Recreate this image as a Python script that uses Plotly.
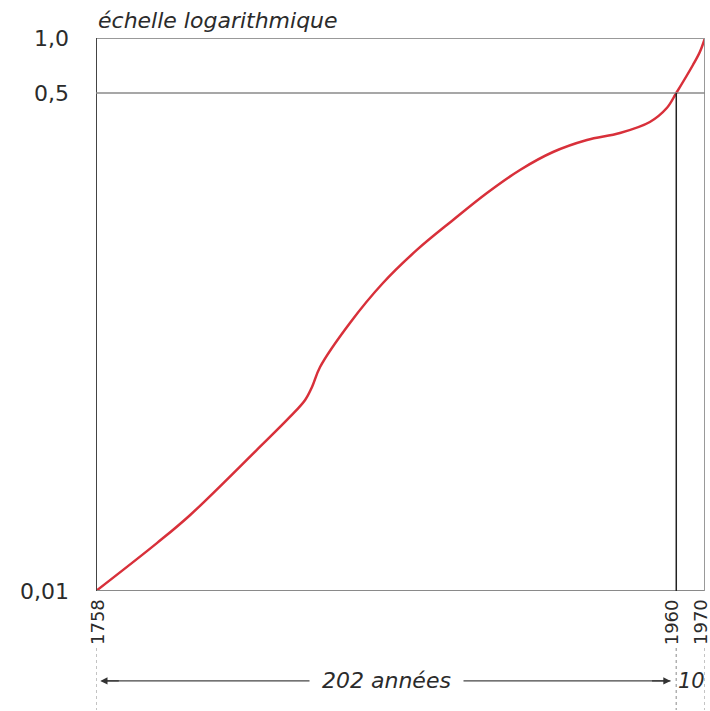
import plotly.graph_objects as go

# Curve (year, value on the log axis)
years = [1758.0, 1779.2, 1790.7, 1814.0, 1825.5, 1830.8, 1833.2,
         1836.0, 1846.4, 1857.9, 1869.7, 1882.3, 1894.1, 1905.6, 1917.1, 1928.9,
         1940.4, 1950.8, 1956.7, 1960.0, 1965.8, 1968.2, 1970.0]
values = [0.0100, 0.0149, 0.0188, 0.0324, 0.0426, 0.0491, 0.0547,
          0.0646, 0.0932, 0.1300, 0.1712, 0.2197, 0.2750, 0.3332, 0.3870, 0.4277,
          0.4533, 0.4969, 0.5581, 0.6326, 0.7987, 0.8898, 1.0000]

# Axis ticks as drawn on the picture
y_tick_vals = [0.01, 0.6326, 1.0]
y_tick_text = ["0,01", "0,5", "1,0"]
x_tick_vals = [1758, 1960, 1970]
x_tick_text = ["1758", "1960", "1970"]

x_start, x_mark, x_end = 1758, 1960, 1970
y_bottom, y_mark, y_top = 0.01, 0.6326, 1.0

title_text = "échelle logarithmique"
span_text = "202 années"
tail_text = "10"

FONT = "DejaVu Sans"
TXT = "#2b2b2b"

fig = go.Figure()
fig.add_trace(go.Scatter(
    x=years, y=values, mode="lines",
    line=dict(color="#d8303a", width=2.5, shape="spline", smoothing=1.0),
    cliponaxis=False, hoverinfo="skip", showlegend=False,
))

shapes = []
# frame
shapes.append(dict(type="line", xref="x", yref="y", x0=x_start, x1=x_end, y0=y_top, y1=y_top,
                   line=dict(color="#999999", width=2)))
shapes.append(dict(type="line", xref="x", yref="y", x0=x_start, x1=x_end, y0=y_bottom, y1=y_bottom,
                   line=dict(color="#8a8a8a", width=2)))
shapes.append(dict(type="line", xref="x", yref="y", x0=x_end, x1=x_end, y0=y_bottom, y1=y_top,
                   line=dict(color="#999999", width=2)))
shapes.append(dict(type="line", xref="x", yref="y", x0=x_start, x1=x_start, y0=y_bottom, y1=y_top,
                   line=dict(color="#444444", width=2)))
# 0.5 reference lines
shapes.append(dict(type="line", xref="x", yref="y", x0=x_start, x1=x_end, y0=y_mark, y1=y_mark,
                   line=dict(color="#8a8a8a", width=1.5)))
shapes.append(dict(type="line", xref="x", yref="y", x0=x_mark, x1=x_mark, y0=y_bottom, y1=y_mark,
                   line=dict(color="#222222", width=1.5)))
# dotted guides below the axis
for xv in (x_start, x_mark, x_end):
    shapes.append(dict(type="line", xref="x", yref="paper", x0=xv, x1=xv, y0=-0.103, y1=-0.215,
                       line=dict(color="#b0b0b0", width=1.5, dash="dot")))
# span arrow line
arrow_y = -0.1627
shapes.append(dict(type="line", xref="x", yref="paper", x0=x_start + 2, x1=x_mark - 2,
                   y0=arrow_y, y1=arrow_y, line=dict(color="#444444", width=1.2)))

annotations = [
    dict(text=title_text, xref="paper", yref="paper", x=0.0, y=1.032, xanchor="left",
         yanchor="middle", showarrow=False,
         font=dict(family=FONT, size=22, color=TXT, style="italic")),
    dict(text=span_text, xref="x", yref="paper", x=1859, y=arrow_y, xanchor="center",
         yanchor="middle", showarrow=False, bgcolor="white", borderpad=12,
         font=dict(family=FONT, size=22, color=TXT, style="italic")),
    dict(text=tail_text, xref="x", yref="paper", x=1965.2, y=arrow_y, xanchor="center",
         yanchor="middle", showarrow=False,
         font=dict(family=FONT, size=21, color=TXT, style="italic")),
    dict(text="", xref="x", yref="paper", x=x_start + 1.5, y=arrow_y, ax=20, ay=0,
         showarrow=True, arrowhead=2, arrowsize=1.2, arrowwidth=1.2, arrowcolor="#333333"),
    dict(text="", xref="x", yref="paper", x=x_mark - 2, y=arrow_y, ax=-20, ay=0,
         showarrow=True, arrowhead=2, arrowsize=1.2, arrowwidth=1.2, arrowcolor="#333333"),
]
# rotated year labels under the axis
for xv, txt, shift in zip(x_tick_vals, x_tick_text, (1, -5, -5)):
    annotations.append(dict(text=txt, xref="x", yref="paper", x=xv, y=-0.0127,
                            xanchor="center", yanchor="top", xshift=shift, textangle=-90,
                            showarrow=False, borderpad=0,
                            font=dict(family=FONT, size=18, color=TXT)))

fig.update_layout(
    width=710, height=711,
    margin=dict(l=96, r=5, t=38, b=120, pad=0),
    paper_bgcolor="white", plot_bgcolor="white",
    shapes=shapes, annotations=annotations,
    xaxis=dict(range=[x_start, x_end], showticklabels=False,
               showgrid=False, zeroline=False, showline=False, ticks="",
               fixedrange=True, automargin=False),
    yaxis=dict(type="log", range=[-2, 0], tickvals=y_tick_vals, ticktext=y_tick_text,
               showgrid=False, zeroline=False, showline=False, ticks="",
               ticklabelstandoff=26, tickfont=dict(family=FONT, size=22, color=TXT),
               fixedrange=True, automargin=False),
)

fig.write_html(
    "out.html",
    config={"displayModeBar": False},
    post_script="document.body.style.margin='0';document.body.style.overflow='hidden';",
)
